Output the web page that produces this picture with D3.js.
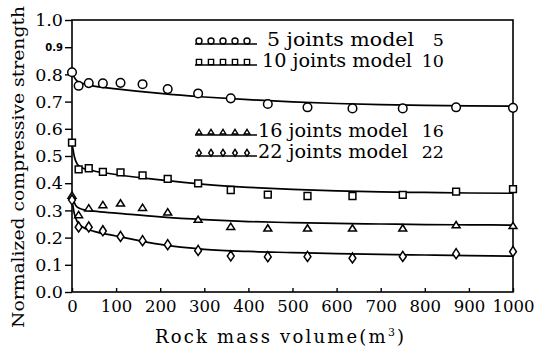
<!DOCTYPE html>
<html>
<head>
<meta charset="utf-8">
<script src="https://cdn.jsdelivr.net/npm/d3@7"></script>
<style>
  body { margin: 0; background: #fff; }
  svg text { font-family: "DejaVu Serif", "Liberation Serif", serif; fill: #000; }
</style>
</head>
<body>
<figure id="chart" style="margin:0"></figure>
<script>
// measured points (volume in m3, normalized strength)
var sampleVolumes = [0, 15, 38, 70, 110, 160, 217, 286, 360, 444, 534, 636, 750, 871, 1000];
var joints5 = [0.808, 0.758, 0.768, 0.767, 0.769, 0.764, 0.746, 0.730, 0.712, 0.691, 0.679, 0.675, 0.675, 0.679, 0.677];
var joints10 = [0.549, 0.451, 0.455, 0.442, 0.440, 0.429, 0.416, 0.399, 0.375, 0.358, 0.353, 0.353, 0.357, 0.369, 0.378];
var joints16 = [0.355, 0.283, 0.308, 0.320, 0.326, 0.310, 0.293, 0.266, 0.240, 0.234, 0.234, 0.234, 0.234, 0.246, 0.243];
var joints22 = [0.338, 0.238, 0.238, 0.224, 0.203, 0.188, 0.173, 0.152, 0.132, 0.129, 0.130, 0.124, 0.130, 0.140, 0.148];

// model curves
var fitVolumes = [0, 5, 12, 25, 50, 100, 200, 300, 400, 500, 600, 700, 800, 900, 1000];
var model5 = [0.808, 0.790, 0.775, 0.766, 0.757, 0.747, 0.730, 0.717, 0.707, 0.699, 0.693, 0.689, 0.686, 0.684, 0.683];
var model10 = [0.550, 0.500, 0.470, 0.455, 0.445, 0.432, 0.412, 0.396, 0.385, 0.377, 0.372, 0.368, 0.366, 0.364, 0.363];
var model16 = [0.360, 0.330, 0.312, 0.303, 0.297, 0.290, 0.276, 0.266, 0.259, 0.255, 0.252, 0.250, 0.248, 0.247, 0.246];
var model22 = [0.340, 0.290, 0.258, 0.238, 0.223, 0.206, 0.175, 0.157, 0.149, 0.145, 0.141, 0.138, 0.136, 0.134, 0.132];

var xTicks = [0, 100, 200, 300, 400, 500, 600, 700, 800, 900, 1000];
var yTicks = [0, 0.1, 0.2, 0.3, 0.4, 0.5, 0.6, 0.7, 0.8, 0.9, 1.0];
var legendLabels = ["5 joints model", "10 joints model", "16 joints model", "22 joints model"];
var legendNumbers = ["5", "10", "16", "22"];

var width = 536, height = 348;
var plot = { left: 72, right: 513, top: 20, bottom: 292 };

var svg = d3.select("#chart").append("svg")
    .attr("width", width)
    .attr("height", height);

var x = d3.scaleLinear().domain([0, 1000]).range([plot.left, plot.right]);
var y = d3.scaleLinear().domain([0, 1]).range([plot.bottom, plot.top]);

// frame
svg.append("rect")
    .attr("x", plot.left).attr("y", plot.top)
    .attr("width", plot.right - plot.left).attr("height", plot.bottom - plot.top)
    .attr("fill", "none").attr("stroke", "#000").attr("stroke-width", 1.6);

// y axis, ticks outward
var yAxis = svg.append("g")
    .attr("transform", "translate(" + plot.left + ",0)")
    .call(d3.axisLeft(y).tickValues(yTicks).tickSize(7).tickPadding(2).tickFormat(d3.format(".1f")));
yAxis.select(".domain").remove();
yAxis.selectAll("line").attr("stroke-width", 1.4);
yAxis.selectAll("text")
    .attr("font-size", function (d) { return d === 0.9 ? 10 : 17.5; })
    .attr("font-weight", function (d) { return d === 0.9 ? "bold" : null; })
    .style("font-family", function (d) { return d === 0.9 ? "DejaVu Sans" : null; })
    .attr("fill", "#000");

// x axis, ticks inward
var xAxis = svg.append("g")
    .attr("transform", "translate(0," + plot.bottom + ")")
    .call(d3.axisBottom(x).tickValues(xTicks).tickSize(-4).tickPadding(8).tickFormat(d3.format("d")));
xAxis.select(".domain").remove();
xAxis.selectAll("line").attr("stroke-width", 1.4);
xAxis.selectAll("text").attr("font-size", 16.5).attr("fill", "#000");

// axis titles
svg.append("text")
    .attr("transform", "translate(24,167) rotate(-90)")
    .attr("text-anchor", "middle")
    .attr("font-size", 17)
    .attr("textLength", 322)
    .attr("lengthAdjust", "spacingAndGlyphs")
    .text("Normalized compressive strength");

var xTitle = svg.append("text")
    .attr("x", 155).attr("y", 343)
    .attr("font-size", 18)
    .style("letter-spacing", "2.2px");
xTitle.append("tspan").text("Rock mass volume(m");
xTitle.append("tspan").attr("dy", -7).attr("font-size", 11).text("3");
xTitle.append("tspan").attr("dy", 7).text(")");

// marker shapes
function marker(kind, s) {
    if (kind === "circle") return d3.symbol().type(d3.symbolCircle).size(Math.PI * s * s)();
    if (kind === "square") return "M" + (-s) + "," + (-s) + "H" + s + "V" + s + "H" + (-s) + "Z";
    if (kind === "triangle") return "M0," + (-s) + "L" + (s * 1.1) + "," + (s * 0.75) + "H" + (-s * 1.1) + "Z";
    return "M0," + (-s * 1.4) + "L" + (s * 0.9) + ",0L0," + (s * 1.25) + "L" + (-s * 0.9) + ",0Z";
}

var series = [
    { kind: "circle", points: joints5, model: model5, size: 4.3 },
    { kind: "square", points: joints10, model: model10, size: 3.4 },
    { kind: "triangle", points: joints16, model: model16, size: 3.6 },
    { kind: "diamond", points: joints22, model: model22, size: 3.8 }
];

var line = d3.line()
    .x(function (d) { return x(d[0]); })
    .y(function (d) { return y(d[1]); })
    .curve(d3.curveMonotoneX);

series.forEach(function (s) {
    svg.append("path")
        .datum(d3.zip(fitVolumes, s.model))
        .attr("d", line)
        .attr("fill", "none")
        .attr("stroke", "#000")
        .attr("stroke-width", 1.7);

    svg.selectAll(null)
        .data(d3.zip(sampleVolumes, s.points))
        .enter()
        .append("path")
        .attr("transform", function (d) { return "translate(" + x(d[0]) + "," + y(d[1]) + ")"; })
        .attr("d", marker(s.kind, s.size))
        .attr("fill", "#fff")
        .attr("stroke", "#000")
        .attr("stroke-width", 1.5);
});

// legend: two blocks of two rows
var legendRows = [
    { ly: 41, tx: 267, tw: 147 },
    { ly: 62, tx: 262, tw: 150 },
    { ly: 132, tx: 258, tw: 150 },
    { ly: 153, tx: 258, tw: 150 }
];

legendRows.forEach(function (r, i) {
    var s = series[i];
    var g = svg.append("g");
    g.append("line")
        .attr("x1", 195).attr("x2", 257)
        .attr("y1", r.ly + 3).attr("y2", r.ly + 3)
        .attr("stroke", "#000").attr("stroke-width", 1.6);
    g.selectAll(null)
        .data(d3.range(5))
        .enter()
        .append("path")
        .attr("transform", function (k) { return "translate(" + (199 + k * 12) + "," + r.ly + ")"; })
        .attr("d", marker(s.kind, s.kind === "circle" ? 3 : 2.6))
        .attr("fill", "#fff")
        .attr("stroke", "#000")
        .attr("stroke-width", 1.4);
    g.append("text")
        .attr("x", r.tx).attr("y", r.ly + 5)
        .attr("font-size", 18)
        .attr("textLength", r.tw)
        .attr("lengthAdjust", "spacingAndGlyphs")
        .text(legendLabels[i]);
    g.append("text")
        .attr("x", 444).attr("y", r.ly + 5)
        .attr("text-anchor", "end")
        .attr("font-size", 17.5)
        .text(legendNumbers[i]);
});
</script>
</body>
</html>
